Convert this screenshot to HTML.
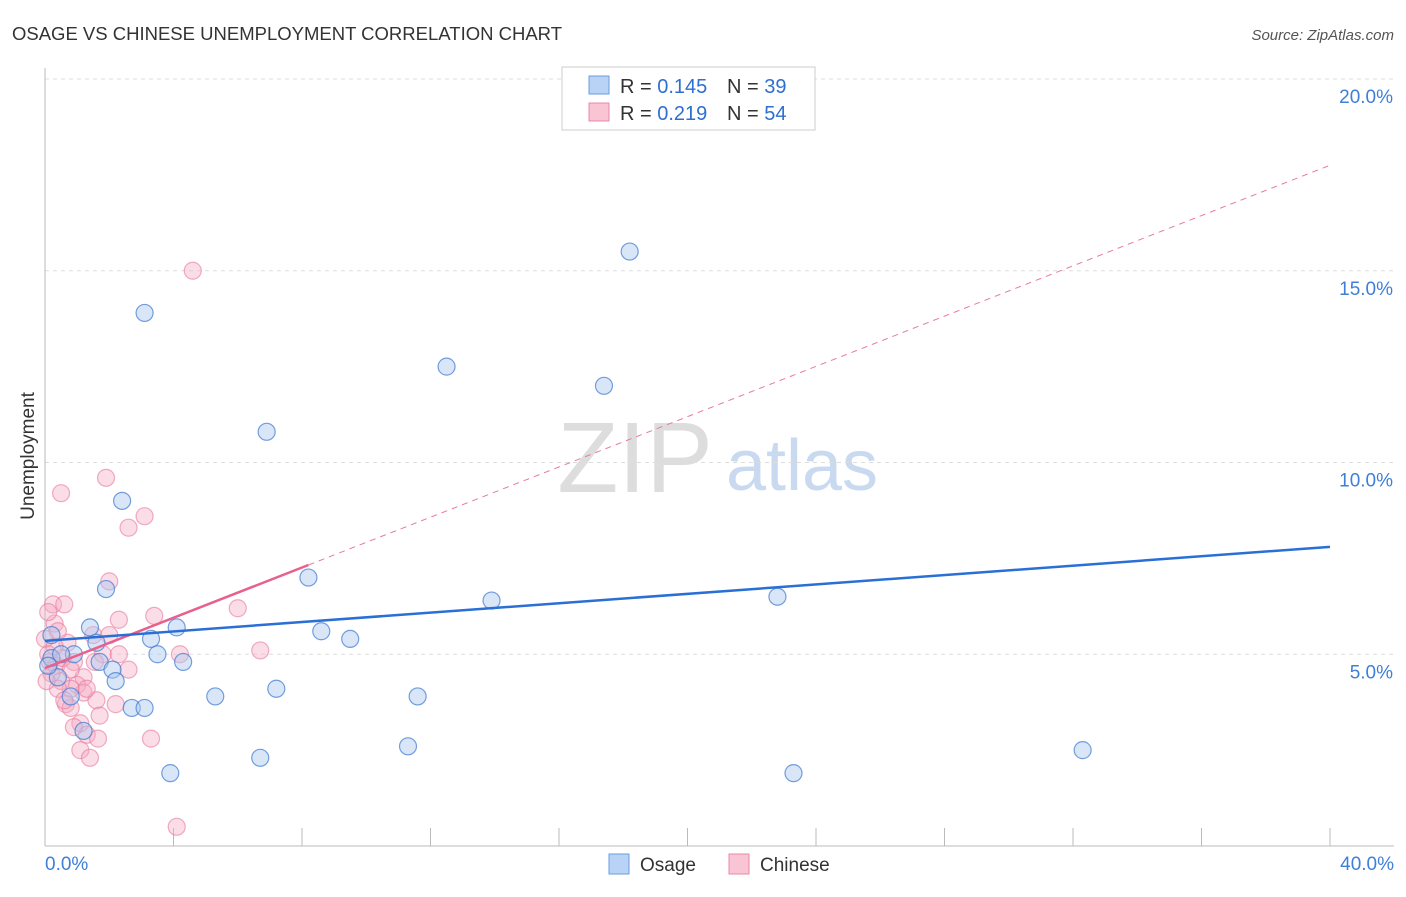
<!DOCTYPE html>
<html><head><meta charset="utf-8"><style>
body{margin:0;background:#fff;font-family:"Liberation Sans",sans-serif;}
svg text{font-family:"Liberation Sans",sans-serif;}
</style></head><body>
<svg id="chart" width="1406" height="892" xmlns="http://www.w3.org/2000/svg">
<text x="12" y="40" font-size="18.5" fill="#333" textLength="550">OSAGE VS CHINESE UNEMPLOYMENT CORRELATION CHART</text>
<text x="1394" y="40" font-size="15" fill="#555" font-style="italic" text-anchor="end">Source: ZipAtlas.com</text>
<text x="34" y="456" font-size="19" fill="#333" text-anchor="middle" transform="rotate(-90 34 456)">Unemployment</text>
<g><text x="635" y="492" font-size="100" fill="#ddd" font-family="Liberation Serif" text-anchor="middle">ZIP</text><text x="802" y="490" font-size="72" fill="#c9daf0" text-anchor="middle">atlas</text></g>
<g id="grid"></g><g id="axes"></g><g id="pts"></g><g id="trends"></g>
<g>
<rect x="562" y="67" width="253" height="63" fill="#fff" stroke="#ccc"/>
<rect x="589" y="76" width="20" height="18" fill="#b8d3f5" stroke="#6a9ee0"/>
<text x="620" y="93" font-size="20" fill="#333">R = <tspan fill="#2f6fd0">0.145</tspan></text>
<text x="727" y="93" font-size="20" fill="#333">N = <tspan fill="#2f6fd0">39</tspan></text>
<rect x="589" y="103" width="20" height="18" fill="#f9c4d4" stroke="#e88aa8"/>
<text x="620" y="120" font-size="20" fill="#333">R = <tspan fill="#2f6fd0">0.219</tspan></text>
<text x="727" y="120" font-size="20" fill="#333">N = <tspan fill="#2f6fd0">54</tspan></text>
</g>
<g>
<rect x="609" y="854" width="20" height="20" fill="#b8d3f5" stroke="#6a9ee0"/><text x="640" y="871" font-size="19" fill="#333">Osage</text>
<rect x="729" y="854" width="20" height="20" fill="#f9c4d4" stroke="#e88aa8"/><text x="760" y="871" font-size="19" fill="#333">Chinese</text>
</g>
</svg>
<script>
const yTicks=[5,10,15,20];
const yTickLabels=["5.0%","10.0%","15.0%","20.0%"];
const xEnds=["0.0%","40.0%"];
const osageX=[18.2,3.1,12.5,17.4,6.9,2.4,1.9,8.2,13.9,22.8,1.4,4.1,3.3,1.6,8.6,9.5,3.5,0.9,4.3,0.2,1.7,2.1,0.4,2.2,5.3,7.2,11.6,0.8,2.7,3.1,11.3,32.3,1.2,3.9,6.7,23.3,0.2,0.1,0.5];
const osageY=[15.5,13.9,12.5,12.0,10.8,9.0,6.7,7.0,6.4,6.5,5.7,5.7,5.4,5.3,5.6,5.4,5.0,5.0,4.8,4.9,4.8,4.6,4.4,4.3,3.9,4.1,3.9,3.9,3.6,3.6,2.6,2.5,3.0,1.9,2.3,1.9,5.5,4.7,5.0];
const chineseX=[4.6,0.5,1.9,2.6,3.1,2.0,0.25,0.6,2.3,3.4,6.0,6.7,0.3,1.5,0.1,0.7,1.8,2.3,0.15,0.35,0.9,1.2,2.6,0.0,0.5,1.0,1.2,0.8,1.6,0.65,0.8,1.7,2.2,0.4,1.1,1.3,1.65,3.3,1.1,1.4,4.1,4.2,0.2,0.05,0.6,0.9,0.55,1.3,0.3,2.0,1.55,0.4,0.1,0.8];
const chineseY=[15.0,9.2,9.6,8.3,8.6,6.9,6.3,6.3,5.9,6.0,6.2,5.1,5.8,5.5,6.1,5.3,5.0,5.0,4.8,4.7,4.8,4.4,4.6,5.4,4.3,4.2,4.0,4.1,3.8,3.7,3.6,3.4,3.7,4.1,3.2,2.9,2.8,2.8,2.5,2.3,0.5,5.0,4.5,4.3,3.8,3.1,4.9,4.1,5.2,5.5,4.8,5.6,5.0,4.6];
const osageTrend=[5.35,7.80];
const chineseTrend=[4.64,17.75];
const chineseSolidEnd=8.2;
const NS="http://www.w3.org/2000/svg";
const X=v=>45+v*(1285/40), Y=v=>846-v*38.35;
function mk(tag,attrs,parent){const e=document.createElementNS(NS,tag);for(const k in attrs)e.setAttribute(k,attrs[k]);document.getElementById(parent).appendChild(e);return e;}
yTicks.forEach((t,i)=>{
 const l=mk('line',{x1:45,x2:1394,y1:Y(t),y2:Y(t),stroke:'#ddd','stroke-dasharray':'4,4'},'grid');
 
 
 const tx=mk('text',{x:1393,y:Y(t)+24,'font-size':19,fill:'#3f7fd8','text-anchor':'end'},'grid');
 tx.textContent=yTickLabels[i];
 
 
});
const ax=mk('line',{x1:45,x2:45,y1:68,y2:846,stroke:'#bbb'},'axes');
const bx=mk('line',{x1:45,x2:1394,y1:846,y2:846,stroke:'#bbb'},'axes');
for(let i=1;i<=10;i++){const t=mk('line',{x1:X(i*4),x2:X(i*4),y1:828,y2:846,stroke:'#bbb'},'axes');}
[[0,'start',45],[40,'end',1394]].forEach((d,i)=>{const t=mk('text',{x:d[2],y:870,'font-size':19,fill:'#3f7fd8','text-anchor':d[1]},'axes');t.textContent=xEnds[i];});
chineseX.forEach((v,i)=>{const c=mk('circle',{cx:X(v),cy:Y(chineseY[i]),r:8.5,fill:'rgba(246,170,195,0.4)',stroke:'rgba(232,120,155,0.6)','stroke-width':1.2},'pts');});
osageX.forEach((v,i)=>{const c=mk('circle',{cx:X(v),cy:Y(osageY[i]),r:8.5,fill:'rgba(170,200,240,0.45)',stroke:'rgba(60,120,210,0.7)','stroke-width':1.2},'pts');});
const cy=x=>chineseTrend[0]+(chineseTrend[1]-chineseTrend[0])*x/40;
const d1=mk('line',{x1:X(chineseSolidEnd),y1:Y(cy(chineseSolidEnd)),x2:X(40),y2:Y(chineseTrend[1]),stroke:'#e87aa0','stroke-width':1,'stroke-dasharray':'6,5'},'trends');
const d2=mk('line',{x1:X(0),y1:Y(chineseTrend[0]),x2:X(chineseSolidEnd),y2:Y(cy(chineseSolidEnd)),stroke:'#e8608c','stroke-width':2.5},'trends');
const d3=mk('line',{x1:X(0),y1:Y(osageTrend[0]),x2:X(40),y2:Y(osageTrend[1]),stroke:'#2a6fd6','stroke-width':2.5},'trends');
</script>
</body></html>
